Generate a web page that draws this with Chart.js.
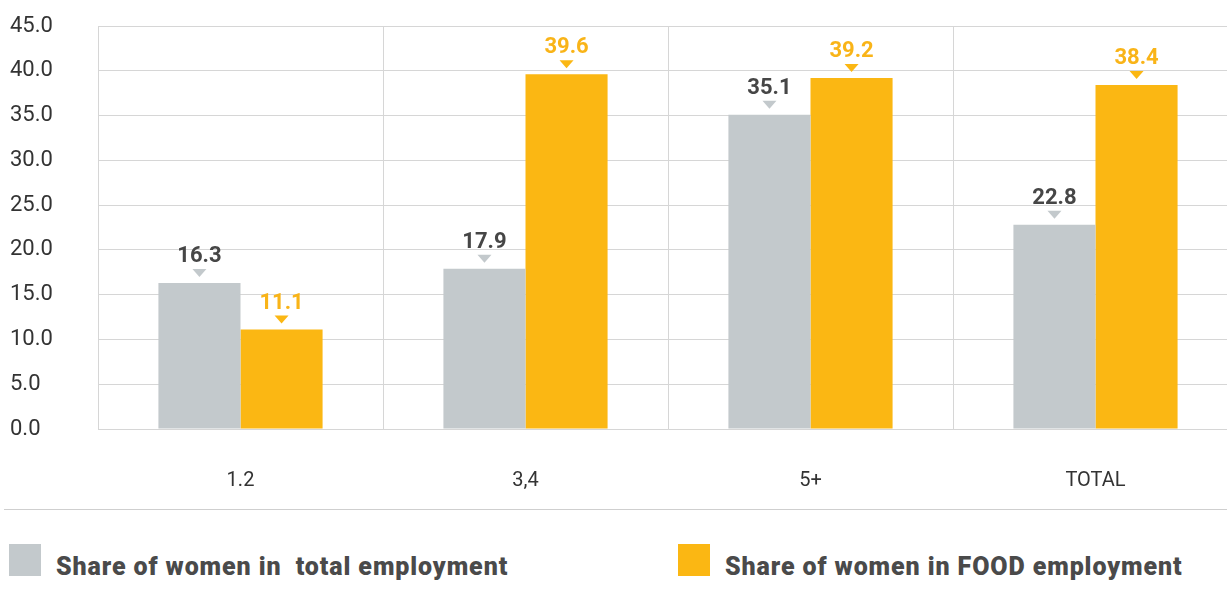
<!DOCTYPE html>
<html lang="en">
<head>
    <meta charset="UTF-8">
    <title>Share of women in employment</title>
    <script src="https://cdn.jsdelivr.net/npm/chart.js@4/dist/chart.umd.min.js"></script>
    <style>
        body{
            margin: 0;
            overflow: hidden;
            background: #fff;
            font-family: Roboto, sans-serif;
        }
        .wrap{
            position: relative;
            width: 1240px;
            height: 500px;
        }
        .rule{
            position: absolute;
            left: 4px;
            top: 509px;
            width: 1223px;
            border-top: 1px solid #cfcfcf;
        }
        .legend{
            position: absolute;
            top: 544px;
            left: 0;
            width: 1227px;
            height: 40px;
        }
        .item{
            position: absolute;
            top: 0;
            white-space: pre;
            font-weight: bold;
            font-size: 25px;
            letter-spacing: 0.9px;
            color: #4a4a4a;
            line-height: 32px;
        }
        .item b{
            position: relative;
            top: 7px;
        }
        .item span{
            display: inline-block;
            width: 32px;
            height: 32px;
            vertical-align: top;
            margin-right: 15px;
        }
    </style>
</head>
<body>
    <div class="wrap">
        <canvas id="myBarChart"></canvas>
    </div>
    <div class="rule"></div>
    <div class="legend">
        <div class="item" style="left:9px"><span style="background:#c3c9cc"></span><b>Share of women in  total employment</b></div>
        <div class="item" style="left:678px"><span style="background:#fbb713"></span><b>Share of women in FOOD employment</b></div>
    </div>

    <script>
        // chart data
        const categories = ['1.2', '3,4', '5+', 'TOTAL'];
        const totalShare = [16.3, 17.9, 35.1, 22.8];
        const foodShare = [11.1, 39.6, 39.2, 38.4];
        const seriesNames = ['Share of women in  total employment', 'Share of women in FOOD employment'];

        const grey = '#c3c9cc';
        const orange = '#fbb713';

        // value label with a small triangle above each bar
        const valueLabels = {
            id: 'valueLabels',
            afterDatasetsDraw(chart) {
                const ctx = chart.ctx;
                chart.data.datasets.forEach((ds, i) => {
                    const meta = chart.getDatasetMeta(i);
                    meta.data.forEach((bar, j) => {
                        const x = bar.x, y = bar.y;
                        ctx.save();
                        ctx.fillStyle = ds.backgroundColor;
                        ctx.beginPath();
                        ctx.moveTo(x - 7, y - 14);
                        ctx.lineTo(x + 7, y - 14);
                        ctx.lineTo(x, y - 6);
                        ctx.closePath();
                        ctx.fill();
                        ctx.fillStyle = i === 0 ? '#464646' : '#f9b418';
                        ctx.font = 'bold 22px Roboto';
                        ctx.textAlign = 'center';
                        ctx.textBaseline = 'alphabetic';
                        ctx.fillText(ds.data[j].toFixed(1), x, y - 21);
                        ctx.restore();
                    });
                });
            }
        };

        const ctx = document.getElementById('myBarChart').getContext('2d');
        const myBarChart = new Chart(ctx, {
            type: 'bar',
            data: {
                labels: categories,
                datasets: [
                    {
                        label: seriesNames[0],
                        data: totalShare,
                        backgroundColor: grey
                    },
                    {
                        label: seriesNames[1],
                        data: foodShare,
                        backgroundColor: orange
                    }
                ]
            },
            options: {
                responsive: true,
                maintainAspectRatio: false,
                animation: false,
                layout: {
                    padding: { left: 10, right: 2, top: 26, bottom: 0 }
                },
                plugins: {
                    legend: { display: false },
                    tooltip: { enabled: false }
                },
                datasets: {
                    bar: { categoryPercentage: 0.576, barPercentage: 1 }
                },
                scales: {
                    x: {
                        grid: { color: '#d6d6d6', drawTicks: false },
                        border: { color: '#d6d6d6' },
                        ticks: {
                            color: '#333',
                            font: { family: 'Roboto', size: 20 },
                            padding: 40
                        },
                        afterFit(scale) { scale.height = 71; }
                    },
                    y: {
                        min: 0,
                        max: 45,
                        grid: { color: '#d6d6d6', drawTicks: false },
                        border: { color: '#d6d6d6' },
                        ticks: {
                            stepSize: 5,
                            color: '#333',
                            crossAlign: 'far',
                            font: { family: 'Roboto', size: 22 },
                            callback: v => v.toFixed(1)
                        },
                        afterFit(scale) { scale.width = 88; }
                    }
                }
            },
            plugins: [valueLabels]
        });
    </script>
</body>
</html>
